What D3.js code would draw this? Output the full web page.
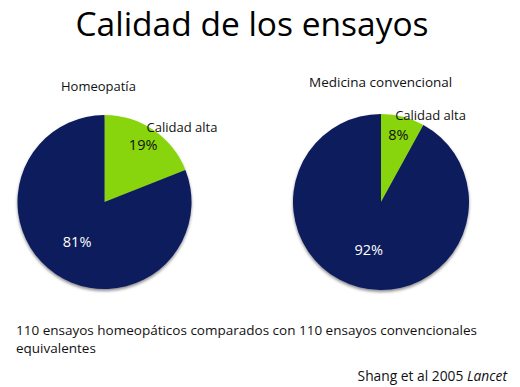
<!DOCTYPE html>
<html lang="es">
<head>
  <meta charset="UTF-8">
  <title>Calidad de los ensayos</title>
  <script src="https://d3js.org/d3.v7.min.js"></script>
  <style>
    body {
      margin: 0;
      padding: 0;
      background: #fff;
    }
    svg {
      display: block;
      font-family: "Open Sans", "Noto Sans", sans-serif;
    }
  </style>
</head>
<body>
  <svg id="chart" width="520" height="387"></svg>

  <script>
    // datos
    const panelTitles = ["Homeopatía", "Medicina convencional"];
    const categories = ["Calidad alta", "Otros"];
    const homeopatia = [19, 81];
    const convencional = [8, 92];
    const colors = ["#88d40a", "#0f1a5c"];

    const width = 520, height = 387;
    const svg = d3.select("#chart");

    // sombra suave bajo las tartas
    const defs = svg.append("defs");
    const filter = defs.append("filter").attr("id", "shadow")
      .attr("x", "-20%").attr("y", "-20%").attr("width", "140%").attr("height", "140%");
    filter.append("feDropShadow")
      .attr("dx", 0).attr("dy", 2).attr("stdDeviation", 1.5)
      .attr("flood-color", "#000").attr("flood-opacity", 0.45);

    // título
    svg.append("text")
      .attr("x", 252)
      .attr("y", 36)
      .attr("text-anchor", "middle")
      .style("font-size", "33.5px")
      .style("fill", "#000")
      .text("Calidad de los ensayos");

    const panels = [
      { title: panelTitles[0], values: homeopatia, cx: 104.5, cy: 202, r: 87, titleX: 61, titleY: 91, titleSize: 13 },
      { title: panelTitles[1], values: convencional, cx: 381, cy: 202, r: 88, titleX: 309, titleY: 87, titleSize: 13.5 }
    ];

    const pie = d3.pie().sort(null).value(d => d.value);

    panels.forEach(function(p) {
      const data = categories.map((c, i) => ({ cat: c, value: p.values[i] }));
      const arcs = pie(data);
      const arc = d3.arc().innerRadius(0).outerRadius(p.r);

      const g = svg.append("g")
        .attr("transform", `translate(${p.cx},${p.cy})`);

      g.append("g")
        .attr("filter", "url(#shadow)")
        .selectAll("path")
        .data(arcs)
        .enter().append("path")
        .attr("d", arc)
        .attr("fill", (d, i) => colors[i]);

      // porcentajes
      g.selectAll(".pct")
        .data(arcs)
        .enter().append("text")
        .attr("class", "pct")
        .attr("transform", function(d, i) {
          const lr = i === 0 ? p.r * 0.79 : p.r * 0.56;
          const a = (d.startAngle + d.endAngle) / 2;
          return `translate(${lr * Math.sin(a)},${-lr * Math.cos(a)})`;
        })
        .attr("text-anchor", "middle")
        .attr("dy", "0.35em")
        .style("font-size", "14.5px")
        .style("fill", (d, i) => i === 0 ? "#111" : "#fff")
        .text(d => d.data.value + "%");

      // etiqueta de categoría
      const hi = arcs[0];
      const ma = (hi.startAngle + hi.endAngle) / 2;
      g.append("text")
        .attr("x", 89 * Math.sin(ma) - 8)
        .attr("y", -89 * Math.cos(ma) + 4)
        .style("font-size", "13px")
        .style("fill", "#111")
        .text(hi.data.cat);

      // título del panel
      svg.append("text")
        .attr("x", p.titleX)
        .attr("y", p.titleY)
        .style("font-size", p.titleSize + "px")
        .style("fill", "#111")
        .text(p.title);
    });

    // nota
    svg.append("text")
      .attr("x", 16)
      .attr("y", 335)
      .style("font-size", "13.5px")
      .style("fill", "#111")
      .text("110 ensayos homeopáticos comparados con 110 ensayos convencionales");
    svg.append("text")
      .attr("x", 16)
      .attr("y", 353)
      .style("font-size", "13.5px")
      .style("fill", "#111")
      .text("equivalentes");

    const src = svg.append("text")
      .attr("x", 507)
      .attr("y", 381)
      .attr("text-anchor", "end")
      .style("font-size", "13.8px")
      .style("fill", "#111");
    src.append("tspan").text("Shang et al 2005 ");
    src.append("tspan").style("font-style", "italic").text("Lancet");
  </script>
</body>
</html>
